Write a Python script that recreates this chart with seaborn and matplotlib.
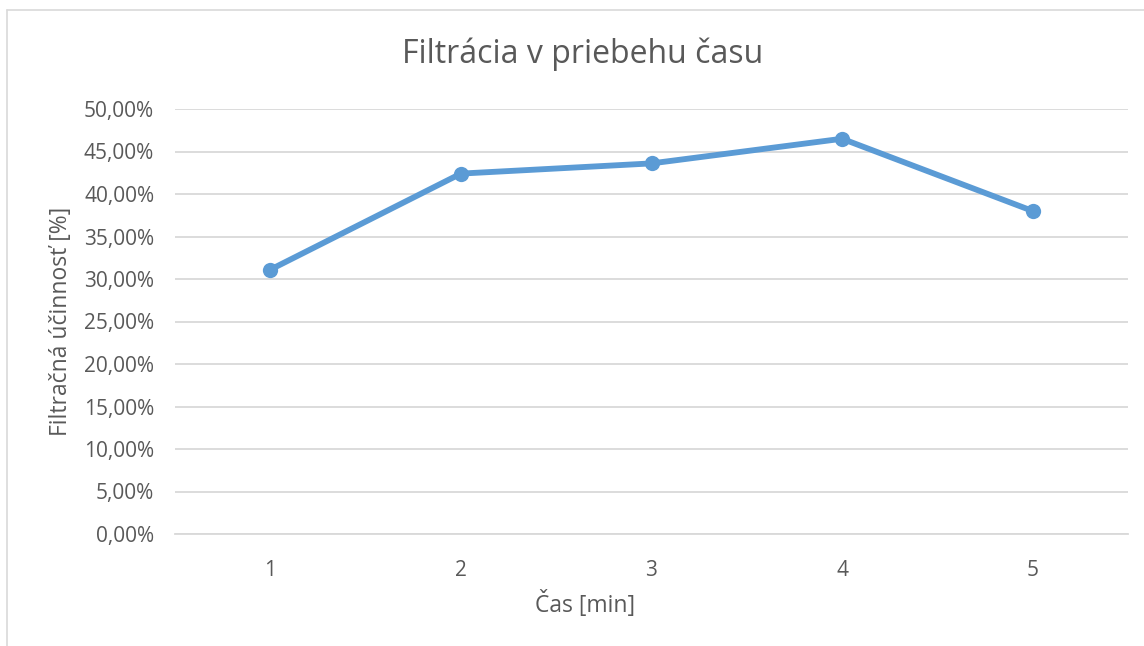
import matplotlib
matplotlib.use("Agg")
import matplotlib.pyplot as plt
import matplotlib.ticker as mticker
from matplotlib.lines import Line2D
import seaborn as sns
import pandas as pd

# data
cas_min = [1, 2, 3, 4, 5]
ucinnost = [0.311, 0.424, 0.436, 0.465, 0.380]
y_ticks = [i * 0.05 for i in range(11)]

sns.set_theme(style="white")
plt.rcParams['font.family'] = ['Open Sans', 'DejaVu Sans']

text_col = '#595959'
grid_col = '#D9D9D9'
line_col = '#5B9BD5'

df = pd.DataFrame({'cas': cas_min, 'ucinnost': ucinnost})

fig = plt.figure(figsize=(11.44, 6.46), dpi=100)
ax = fig.add_axes([175 / 1144, 1 - 534 / 646, (1128 - 175) / 1144, (534 - 109) / 646])

sns.lineplot(data=df, x='cas', y='ucinnost', ax=ax, color=line_col, linewidth=4.2,
             marker='o', markersize=11, markeredgewidth=0, zorder=3)

ax.set_xlim(0.5, 5.5)
ax.set_ylim(0, 0.5)
ax.set_xticks(cas_min)
ax.set_yticks(y_ticks)
ax.yaxis.set_major_formatter(mticker.FuncFormatter(lambda v, p: f"{v*100:.2f}%".replace('.', ',')))
ax.grid(axis='y', color=grid_col, linewidth=1.3)
ax.set_axisbelow(True)
for s in ['top', 'right', 'left']:
    ax.spines[s].set_visible(False)
ax.spines['bottom'].set_color(grid_col)
ax.spines['bottom'].set_linewidth(1.3)
ax.tick_params(axis='both', length=0, labelsize=15, labelcolor=text_col)
ax.tick_params(axis='y', pad=15)
ax.tick_params(axis='x', pad=19)

ax.set_xlabel('')
ax.set_ylabel('Filtračná účinnosť [%]', fontsize=16.5, color=text_col, labelpad=8)

# title and x label sit centred on the whole chart, Excel style
fig.text(583 / 1144, 1 - 54 / 646, 'Filtrácia v priebehu času', fontsize=23,
         color=text_col, ha='center', va='center')
fig.text(585 / 1144, 1 - 604 / 646, 'Čas [min]', fontsize=16.5,
         color=text_col, ha='center', va='center')

# chart border (top and left edges visible in the crop)
fig.add_artist(Line2D([7 / 1144, 7 / 1144], [0, 1 - 10 / 646], color=grid_col, linewidth=1.2))
fig.add_artist(Line2D([7 / 1144, 1], [1 - 10 / 646, 1 - 10 / 646], color=grid_col, linewidth=1.2))

fig.savefig('out.png', dpi=100, facecolor='white')
